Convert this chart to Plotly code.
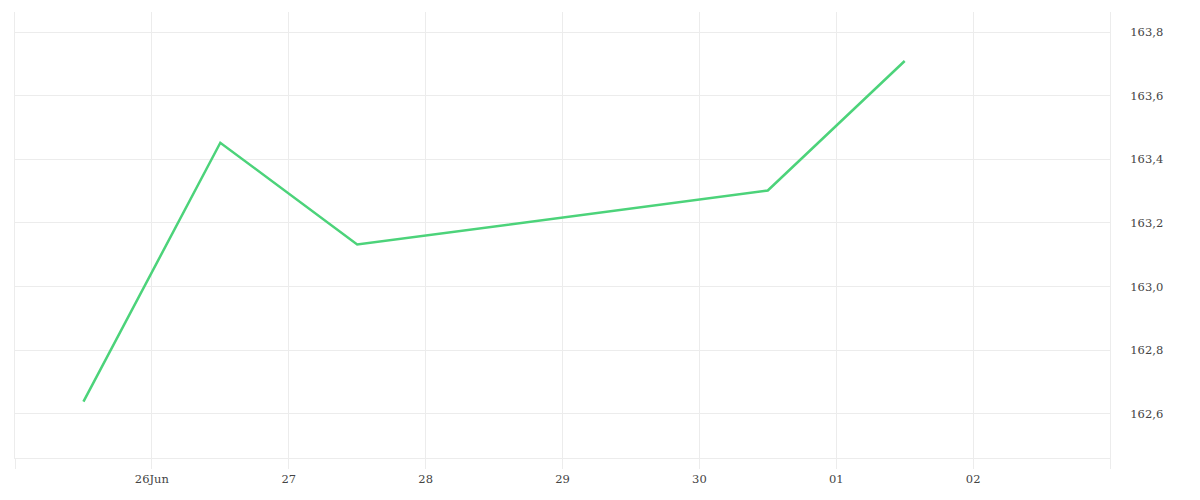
import plotly.graph_objects as go

dates = ["2025-06-25 12:00", "2025-06-26 12:00", "2025-06-27 12:00", "2025-06-30 12:00", "2025-07-01 12:00"]
values = [162.638, 163.452, 163.132, 163.302, 163.709]

tick_vals = ["2025-06-25", "2025-06-26", "2025-06-27", "2025-06-28", "2025-06-29",
             "2025-06-30", "2025-07-01", "2025-07-02", "2025-07-03"]
tick_text = ["", "26Jun", "27", "28", "29", "30", "01", "02", ""]
y_ticks = [162.6, 162.8, 163.0, 163.2, 163.4, 163.6, 163.8]

grid = "#ececec"
fig = go.Figure(go.Scatter(x=dates, y=values, mode="lines",
                           line=dict(color="#4cd37a", width=2.5),
                           hoverinfo="x+y"))
fig.update_layout(
    width=1200, height=500,
    margin=dict(l=7, r=98, t=4, b=50),
    plot_bgcolor="white", paper_bgcolor="white",
    separators=",.",
    font=dict(family="DejaVu Serif", size=11.5, color="#444"),
    showlegend=False,
    xaxis=dict(type="date", range=["2025-06-25", "2025-07-03"],
               tickmode="array", tickvals=tick_vals, ticktext=tick_text,
               showgrid=True, gridcolor=grid, gridwidth=1,
               ticks="outside", ticklen=10, tickcolor=grid,
               showline=True, linecolor=grid, linewidth=1,
               zeroline=False),
    yaxis=dict(side="right", range=[162.461, 163.863],
               tickmode="array", tickvals=y_ticks, tickformat=".1f",
               showgrid=True, gridcolor=grid, gridwidth=1,
               ticks="", ticklabelstandoff=17, zeroline=False,
               showline=True, mirror=True, linecolor=grid, linewidth=1),
)
fig.write_html("out.html")
